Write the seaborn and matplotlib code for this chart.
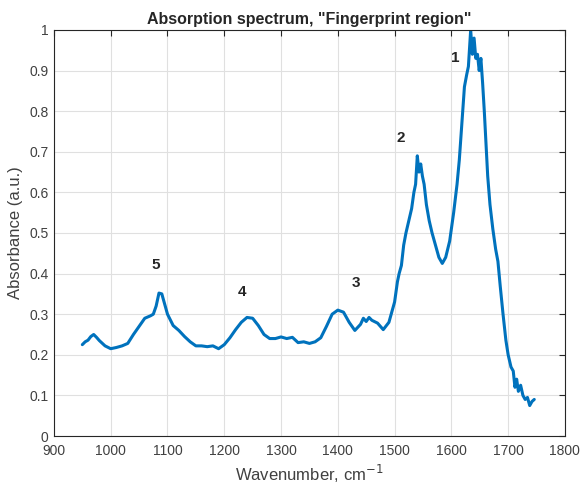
import matplotlib
matplotlib.use("Agg")
import matplotlib.pyplot as plt
import seaborn as sns
import pandas as pd

# 10 values per line in both lists (aligned)
wavenumber = [
    950, 955, 960, 965, 970, 975, 980, 990, 1000, 1010,
    1020, 1030, 1040, 1050, 1060, 1070, 1075, 1080, 1085, 1090,
    1095, 1100, 1110, 1120, 1130, 1140, 1150, 1160, 1170, 1180,
    1190, 1200, 1210, 1220, 1230, 1240, 1250, 1260, 1270, 1280,
    1290, 1300, 1310, 1320, 1330, 1340, 1350, 1360, 1370, 1380,
    1390, 1400, 1410, 1420, 1430, 1440, 1445, 1450, 1455, 1460,
    1470, 1480, 1490, 1500, 1505, 1508, 1512, 1516, 1520, 1525,
    1530, 1534, 1537, 1540, 1543, 1546, 1549, 1552, 1556, 1561,
    1566, 1572, 1578, 1584, 1590, 1597, 1604, 1610, 1614, 1619,
    1623, 1627, 1630, 1634, 1637, 1640, 1643, 1646, 1649, 1652,
    1655, 1658, 1664, 1668, 1673, 1678, 1682, 1686, 1691, 1696,
    1700, 1705, 1709, 1712, 1715, 1718, 1722, 1726, 1730, 1734,
    1738, 1742, 1746,
]
absorbance = [
    0.225, 0.232, 0.236, 0.245, 0.250, 0.243, 0.235, 0.222, 0.215, 0.218,
    0.222, 0.228, 0.250, 0.270, 0.290, 0.296, 0.300, 0.320, 0.352, 0.350,
    0.325, 0.300, 0.272, 0.260, 0.245, 0.232, 0.222, 0.222, 0.220, 0.222,
    0.215, 0.225, 0.242, 0.262, 0.280, 0.292, 0.290, 0.272, 0.250, 0.240,
    0.240, 0.244, 0.240, 0.243, 0.230, 0.232, 0.228, 0.232, 0.242, 0.270,
    0.300, 0.310, 0.305, 0.280, 0.260, 0.275, 0.290, 0.282, 0.292, 0.285,
    0.278, 0.262, 0.280, 0.330, 0.380, 0.400, 0.420, 0.470, 0.500, 0.530,
    0.560, 0.600, 0.620, 0.690, 0.650, 0.670, 0.640, 0.620, 0.570, 0.530,
    0.500, 0.470, 0.440, 0.425, 0.440, 0.480, 0.550, 0.620, 0.680, 0.780,
    0.860, 0.890, 0.910, 1.000, 0.940, 0.980, 0.930, 0.940, 0.900, 0.930,
    0.870, 0.800, 0.640, 0.570, 0.510, 0.460, 0.430, 0.370, 0.300, 0.236,
    0.200, 0.170, 0.160, 0.120, 0.140, 0.110, 0.125, 0.100, 0.090, 0.095,
    0.075, 0.085, 0.090,
]

peak_labels = ["1", "2", "3", "4", "5"]
peak_x = [1606, 1510, 1432, 1231, 1079]
peak_y = [0.93, 0.734, 0.377, 0.355, 0.42]

x_ticks = [900, 1000, 1100, 1200, 1300, 1400, 1500, 1600, 1700, 1800]
y_ticks = [0, 0.1, 0.2, 0.3, 0.4, 0.5, 0.6, 0.7, 0.8, 0.9, 1]
y_ticklabels = ["0", "0.1", "0.2", "0.3", "0.4", "0.5", "0.6", "0.7", "0.8", "0.9", "1"]

sns.set_style("white")
plt.rcParams["font.family"] = ["Liberation Sans", "DejaVu Sans"]

df = pd.DataFrame({"wavenumber": wavenumber, "absorbance": absorbance})

fig = plt.figure(figsize=(5.8, 4.91), dpi=100)
ax = fig.add_axes([0.093, 0.112, 0.881, 0.827])
sns.lineplot(data=df, x="wavenumber", y="absorbance", ax=ax, color="#0072BD",
             linewidth=2.2, estimator=None, sort=False)

ax.set_xlim(900, 1800)
ax.set_ylim(0, 1)
ax.set_xticks(x_ticks)
ax.set_yticks(y_ticks)
ax.set_yticklabels(y_ticklabels)
ax.grid(True, color="#e0e0e0", linewidth=0.8)
ax.tick_params(direction="in", top=True, right=True, length=4, labelsize=10,
               colors="#262626", labelcolor="#404040")
ax.tick_params(axis="x", pad=6)
ax.tick_params(axis="y", pad=4)
for s in ax.spines.values():
    s.set_color("#262626")
    s.set_linewidth(0.8)

ax.set_xlabel("Wavenumber, cm$^{-1}$", fontsize=12, color="#404040", labelpad=3)
ax.set_ylabel("Absorbance (a.u.)", fontsize=12, color="#404040")
ax.set_title('Absorption spectrum, "Fingerprint region"', fontsize=11.5,
             fontweight="bold", pad=4)

for lab, px, py in zip(peak_labels, peak_x, peak_y):
    ax.text(px, py, lab, fontsize=11, fontweight="bold", ha="center", va="center")

fig.savefig("out.png", dpi=100)
